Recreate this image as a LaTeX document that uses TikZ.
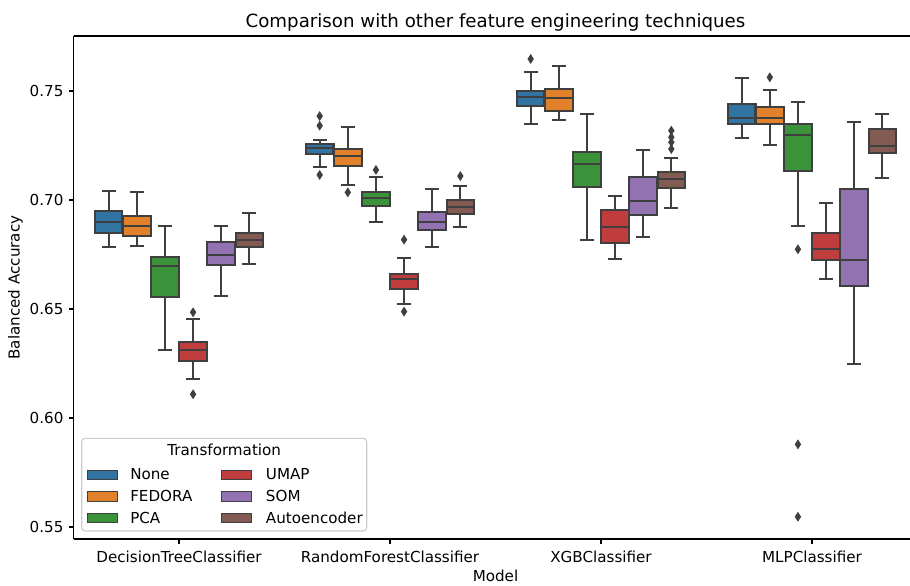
\documentclass[tikz,border=0pt]{standalone}
\usepackage{fontspec}
\setmainfont{DejaVu Sans}

% seaborn "deep"-style box colours and line grey
\definecolor{cNone}{HTML}{3274A1}
\definecolor{cFedora}{HTML}{E1812C}
\definecolor{cPca}{HTML}{3A923A}
\definecolor{cUmap}{HTML}{C03D3E}
\definecolor{cSom}{HTML}{9372B2}
\definecolor{cAuto}{HTML}{845B53}
\definecolor{lngray}{HTML}{3F3F3F}
\definecolor{framegray}{HTML}{CCCCCC}

% one box: #1 category index, #2 hue index, #3 lower whisker, #4 Q1,
% #5 median, #6 Q3, #7 upper whisker, #8 fill colour
\newcommand{\statbox}[8]{%
  \pgfmathsetmacro\bxc{179+211*#1+28.13*(#2-2.5)}%
  \draw[whisk] (\bxc,#3) -- (\bxc,#4) (\bxc,#6) -- (\bxc,#7);
  \draw[whisk] (\bxc-6.9,#3) -- (\bxc+6.9,#3) (\bxc-6.9,#7) -- (\bxc+6.9,#7);
  \filldraw[whisk, fill=#8] (\bxc-13.78,#4) rectangle (\bxc+13.78,#6);
  \draw[whisk] (\bxc-13.78,#5) -- (\bxc+13.78,#5);
}
% outliers: #1 category index, #2 hue index, #3 list of values
\newcommand{\fliers}[3]{%
  \pgfmathsetmacro\bxc{179+211*#1+28.13*(#2-2.5)}%
  \foreach \v in {#3} {
    \fill[lngray] ([yshift=3.6pt]\bxc,\v) -- ([xshift=2.3pt]\bxc,\v)
      -- ([yshift=-3.6pt]\bxc,\v) -- ([xshift=-2.3pt]\bxc,\v) -- cycle;
  }
}

\begin{document}
\begin{tikzpicture}[x=0.72pt,y=-0.72pt,
  whisk/.style={draw=lngray, line width=1.5pt, line cap=butt, line join=miter},
  spine/.style={draw=black, line width=0.8pt},
  tickln/.style={draw=black, line width=0.8pt},
  ticklabel/.style={font=\fontsize{10.9pt}{13pt}\selectfont, inner sep=0pt},
  legpatch/.style={draw=lngray, line width=0.6pt},
  legtext/.style={font=\fontsize{10.9pt}{13pt}\selectfont, inner sep=0pt, anchor=base west}]

\useasboundingbox (0,0) rectangle (910,585);

% ---- boxes, drawn in data units (y = balanced accuracy, upwards) ----
\begin{scope}[y=1569.6pt, yshift=-1242.72pt]
  % DecisionTreeClassifier
  \statbox{0}{0}{0.6784}{0.6847}{0.6900}{0.6951}{0.7040}{cNone}
  \statbox{0}{1}{0.6789}{0.6835}{0.6881}{0.6927}{0.7035}{cFedora}
  \statbox{0}{2}{0.6311}{0.6556}{0.6699}{0.6737}{0.6881}{cPca}
  \statbox{0}{3}{0.6180}{0.6261}{0.6311}{0.6347}{0.6453}{cUmap}
  \fliers{0}{3}{0.6485,0.6109}
  \statbox{0}{4}{0.6560}{0.6700}{0.6749}{0.6807}{0.6881}{cSom}
  \statbox{0}{5}{0.6705}{0.6786}{0.6815}{0.6849}{0.6939}{cAuto}
  % RandomForestClassifier
  \statbox{1}{0}{0.7151}{0.7211}{0.7240}{0.7256}{0.7275}{cNone}
  \fliers{1}{0}{0.7385,0.7341,0.7115}
  \statbox{1}{1}{0.7069}{0.7155}{0.7203}{0.7234}{0.7335}{cFedora}
  \fliers{1}{1}{0.7035}
  \statbox{1}{2}{0.6900}{0.6972}{0.7009}{0.7038}{0.7106}{cPca}
  \fliers{1}{2}{0.7138}
  \statbox{1}{3}{0.6522}{0.6590}{0.6638}{0.6661}{0.6734}{cUmap}
  \fliers{1}{3}{0.6818,0.6488}
  \statbox{1}{4}{0.6786}{0.6864}{0.6900}{0.6945}{0.7050}{cSom}
  \statbox{1}{5}{0.6878}{0.6937}{0.6969}{0.7000}{0.7064}{cAuto}
  \fliers{1}{5}{0.7110}
  % XGBClassifier
  \statbox{2}{0}{0.7347}{0.7430}{0.7472}{0.7501}{0.7586}{cNone}
  \fliers{2}{0}{0.7647}
  \statbox{2}{1}{0.7366}{0.7410}{0.7468}{0.7511}{0.7616}{cFedora}
  \statbox{2}{2}{0.6818}{0.7060}{0.7167}{0.7220}{0.7393}{cPca}
  \statbox{2}{3}{0.6729}{0.6801}{0.6878}{0.6956}{0.7017}{cUmap}
  \statbox{2}{4}{0.6832}{0.6931}{0.6997}{0.7104}{0.7229}{cSom}
  \statbox{2}{5}{0.6965}{0.7056}{0.7095}{0.7128}{0.7191}{cAuto}
  \fliers{2}{5}{0.7318,0.7288,0.7265,0.7234}
  % MLPClassifier
  \statbox{3}{0}{0.7283}{0.7347}{0.7375}{0.7440}{0.7558}{cNone}
  \statbox{3}{1}{0.7251}{0.7349}{0.7375}{0.7425}{0.7503}{cFedora}
  \fliers{3}{1}{0.7563}
  \statbox{3}{2}{0.6881}{0.7132}{0.7297}{0.7347}{0.7450}{cPca}
  \fliers{3}{2}{0.6774,0.5879,0.5547}
  \statbox{3}{3}{0.6636}{0.6723}{0.6775}{0.6850}{0.6985}{cUmap}
  \statbox{3}{4}{0.6246}{0.6604}{0.6725}{0.7049}{0.7356}{cSom}
  \statbox{3}{5}{0.7100}{0.7217}{0.7249}{0.7326}{0.7393}{cAuto}
\end{scope}

% ---- axes frame ----
\draw[spine] (73.5,36) -- (910,36);
\draw[spine] (73.5,539) -- (910,539);
\draw[spine] (73.5,36) -- (73.5,539);

% ---- y ticks ----
\foreach \yy/\lab [count=\i] in {91/0.75,200/0.70,309/0.65,418/0.60,527/0.55} {
  \draw[tickln] (73.5,\yy) -- (68.6,\yy);
  \node[ticklabel, anchor=east] (ytick\i) at (63.7,\yy) {\lab};
}
% ---- x ticks ----
\foreach \xx/\lab [count=\i] in {179/DecisionTreeClassifier,390/RandomForestClassifier,601/XGBClassifier,812/MLPClassifier} {
  \draw[tickln] (\xx,539) -- (\xx,543.9);
  \node[ticklabel, anchor=base] (xtick\i) at (\xx,562) {\lab};
}

% ---- labels and title ----
\node[ticklabel, anchor=base] (xlabel) at (495.5,581) {Model};
\node[ticklabel, rotate=90, anchor=center] (ylabel) at (15.5,287.5) {Balanced Accuracy};
\node[inner sep=0pt, anchor=base, font=\fontsize{13.1pt}{15pt}\selectfont] (title) at (495.5,27.5)
  {Comparison with other feature engineering techniques};

% ---- legend ----
\filldraw[draw=framegray, line width=0.8pt, fill=white, fill opacity=0.8, rounded corners=2.5pt]
  (81.7,438.3) rectangle (366.7,531);
\node[legtext, anchor=base] (legtitle) at (224.2,455.5) {Transformation};
\foreach \lab/\col/\yy [count=\i] in {None/cNone/474.8,FEDORA/cFedora/496.4,PCA/cPca/518} {
  \filldraw[legpatch, fill=\col] (87.3,\yy-4.85) rectangle (117.3,\yy+4.85);
  \node[legtext] (legA\i) at (130,\yy+5) {\lab};
}
\foreach \lab/\col/\yy [count=\i] in {UMAP/cUmap/474.8,SOM/cSom/496.4,Autoencoder/cAuto/518} {
  \filldraw[legpatch, fill=\col] (221.7,\yy-4.85) rectangle (251.7,\yy+4.85);
  \node[legtext] (legB\i) at (265.7,\yy+5) {\lab};
}
\end{tikzpicture}
\end{document}
